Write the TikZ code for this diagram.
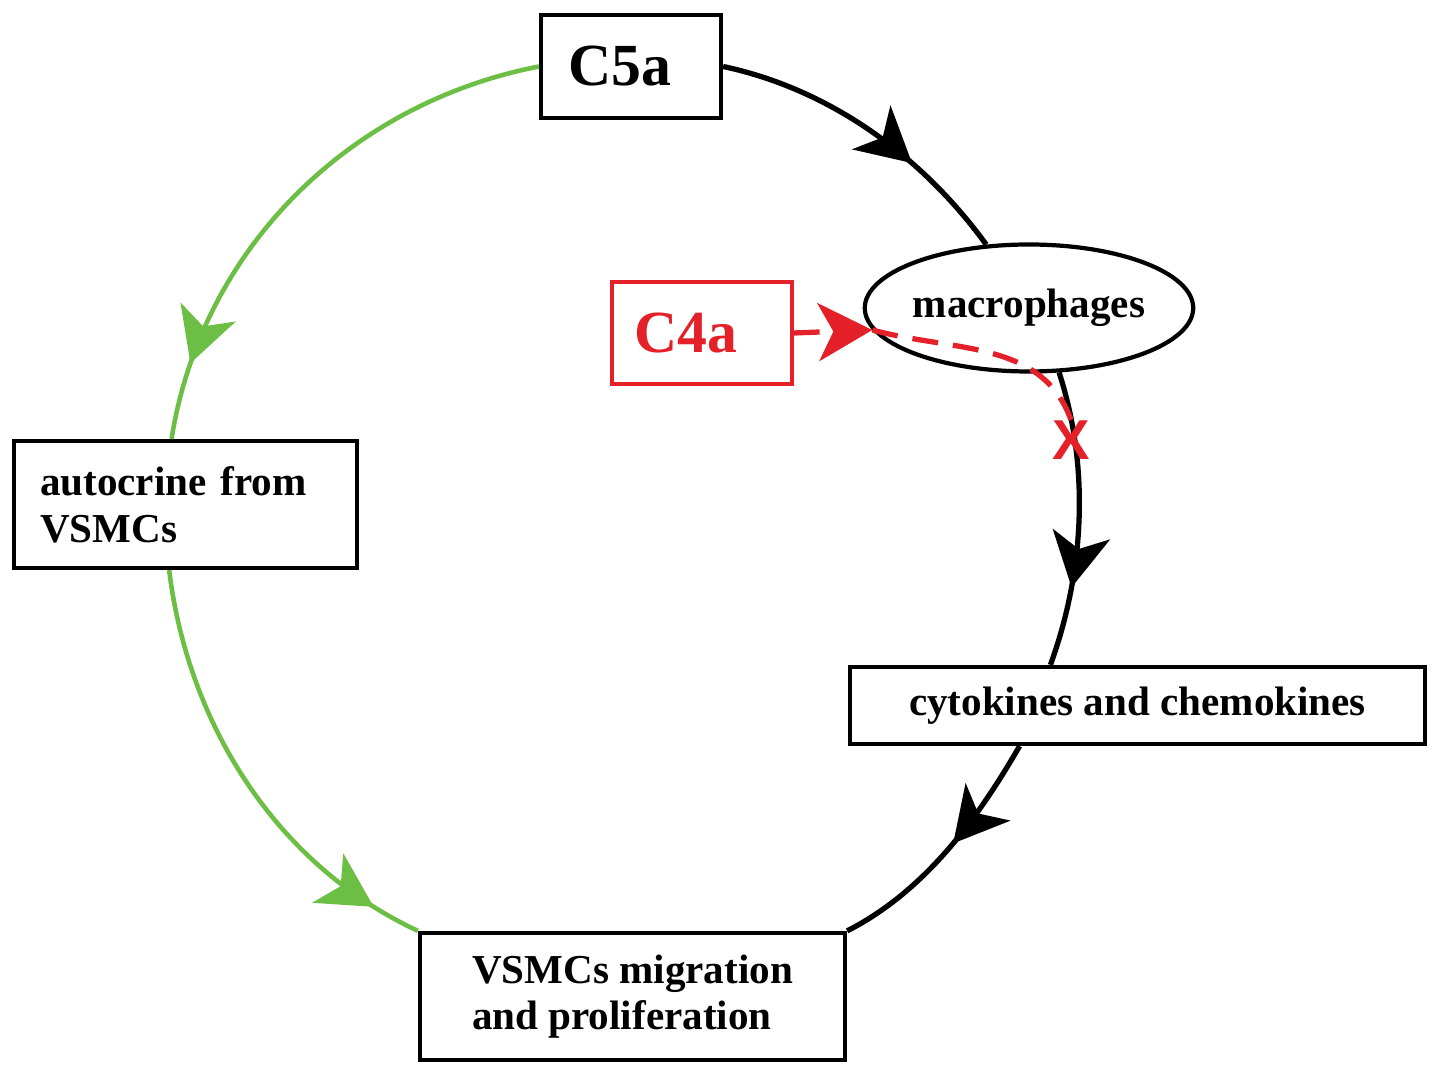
\documentclass[tikz,border=0pt]{standalone}
\usepackage{fontspec}
\setmainfont{Liberation Serif}
\newfontfamily\xfont{Liberation Sans}
\usepackage{tikz}
\usetikzlibrary{positioning,arrows.meta,shapes.geometric,decorations.markings}

\definecolor{cycgreen}{RGB}{108,190,69}
\definecolor{cycred}{RGB}{228,32,40}

\tikzset{
	box/.style={draw, line width=1.2pt, inner ysep=0pt, font=\fontsize{11.7}{13.3}\selectfont\bfseries},
	bigbox/.style={box, align=left, font=\fontsize{17}{20}\selectfont\bfseries},
	midarrow/.style={postaction={decorate, decoration={markings, mark=at position #1 with {\arrow{>}}}}}
}

\begin{document}
\begin{tikzpicture}[>={Stealth[length=5.4mm,width=5.8mm,inset=1.5mm]},
		black line/.style={line width=1.5pt},
		green line/.style={line width=1.3pt, color=cycgreen},
		red line/.style={line width=1.5pt, color=cycred, dash pattern=on 0.26cm off 0.15cm}]
					\useasboundingbox (0,0) rectangle (14.41,-10.75);

					\node[bigbox, text width=1.26cm, inner xsep=0.27cm, minimum height=1.03cm] (c5a) at (6.31,-0.665) {C5a};
					\node[box, ellipse, minimum width=3.26cm, minimum height=1.27cm, inner sep=0pt] (mac) at (10.29,-3.08) {macrophages};
					\node[bigbox, draw=cycred, text=cycred, line width=1.1pt, text width=1.34cm, inner xsep=0.23cm, minimum height=1.02cm, left=0.69cm of mac.west, yshift=-0.25cm] (c4a) {C4a};
					\node[box, align=left, text width=2.91cm, inner xsep=0.26cm, minimum height=1.27cm] (autocr) at (1.855,-5.045) {autocrine from\\VSMCs};
					\node[box, minimum width=5.75cm, minimum height=0.77cm] (cyto) at (11.375,-7.055) {cytokines and chemokines};
					\node[box, align=left, minimum width=4.25cm, minimum height=1.27cm] (vsmc) at (6.325,-9.965) {VSMCs migration\\and proliferation};

					% black chain
					\draw[black line, midarrow=0.66] (c5a.east) to[out=-12, in=126, looseness=0.88] (mac.124);
					\draw[black line, midarrow=0.73] (mac.-65) to[out=-72, in=70, looseness=0.87] (cyto.155);
					\draw[black line, midarrow=0.46] (cyto.-161) to[out=-120, in=27, looseness=0.87] (vsmc.17);

					% green loop back
					\draw[green line, midarrow=0.86] (c5a.west) to[out=191, in=81, looseness=0.94] (autocr.102);
					\draw[green line, midarrow=0.89] (autocr.-104) to[out=-83, in=155, looseness=0.91] (vsmc.163);

					% c4a blocks the chain
					\node[text=cycred, inner sep=0pt, font={\fontsize{16}{16}\xfont\bfseries}] (block) at (10.71,-4.40) {X};
					\draw[red line, ->] (c4a.east) -- (mac.188);
					\draw[red line] (mac.188) to[out=-15, in=110] (block.north);
				\end{tikzpicture}
\end{document}
